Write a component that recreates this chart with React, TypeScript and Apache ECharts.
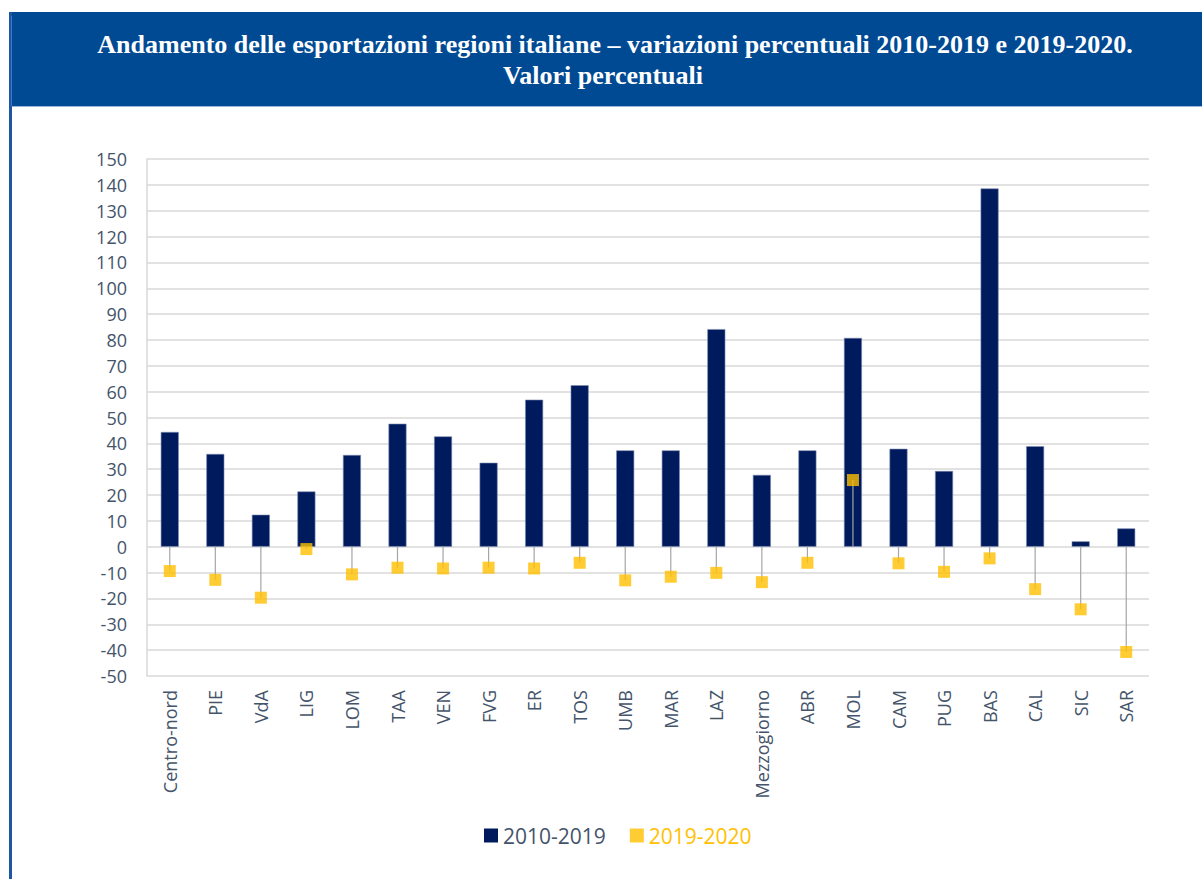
import React, { useEffect, useRef } from "react";
import * as echarts from "echarts";

const categories = [
  "Centro-nord", "PIE", "VdA", "LIG", "LOM", "TAA", "VEN", "FVG", "ER", "TOS", "UMB",
  "MAR", "LAZ", "Mezzogiorno", "ABR", "MOL", "CAM", "PUG", "BAS", "CAL", "SIC", "SAR",
];
const values2010_2019 = [
  44.4, 35.9, 12.4, 21.4, 35.5, 47.6, 42.7, 32.5, 56.9, 62.5, 37.3,
  37.3, 84.2, 27.8, 37.3, 80.8, 37.9, 29.3, 138.6, 38.9, 2.1, 7.1,
];
const values2019_2020 = [
  -9.4, -12.8, -19.7, -0.9, -10.7, -8.1, -8.4, -8.1, -8.4, -6.2, -13.0,
  -11.6, -10.1, -13.7, -6.2, 25.8, -6.4, -9.7, -4.5, -16.4, -24.2, -40.7,
];
const seriesNames = ["2010-2019", "2019-2020"];
const yMin = -50;
const yMax = 150;
const yStep = 10;
const titleLine1 = "Andamento delle esportazioni regioni italiane – variazioni percentuali 2010-2019 e 2019-2020.";
const titleLine2 = "Valori percentuali";

const NAVY = "#001A5E";
const YELLOW = "#FFC000";
const TEXT = "#44546A";
const GRID = "#D9D9D9";

export default function App() {
  const ref = useRef<HTMLDivElement>(null);
  useEffect(() => {
    document.body.style.margin = "0";
    if (!ref.current) return;
    const chart = echarts.init(ref.current, null, { renderer: "svg" });
    chart.setOption({
      animation: false,
      backgroundColor: "#ffffff",
      graphic: [
        { type: "rect", shape: { x: 9, y: 12, width: 1193, height: 94 }, style: { fill: "#004A93" }, z: 0 },
        { type: "rect", shape: { x: 9, y: 106, width: 1193, height: 1 }, style: { fill: "#9DB8DC" }, z: 0 },
        { type: "rect", shape: { x: 9, y: 12, width: 3, height: 867 }, style: { fill: "#1E56A6" }, z: 1 },
        { type: "rect", shape: { x: 11, y: 16, width: 1, height: 90 }, style: { fill: "#3D79C4" }, z: 1 },
        {
          type: "text", x: 615, y: 44, z: 2,
          style: {
            text: titleLine1, fill: "#ffffff", align: "center", verticalAlign: "middle",
            font: 'bold 26px "Liberation Serif"',
          },
        },
        {
          type: "text", x: 603, y: 75, z: 2,
          style: {
            text: titleLine2, fill: "#ffffff", align: "center", verticalAlign: "middle",
            font: 'bold 26px "Liberation Serif"',
          },
        },
      ],
      grid: { left: 147, right: 53, top: 159, bottom: 203, containLabel: false },
      legend: {
        left: 479,
        top: 820,
        itemWidth: 14,
        itemHeight: 14,
        itemGap: 24,
        itemStyle: { borderWidth: 0 },
        textStyle: { fontFamily: "Open Sans", fontSize: 21 },
        data: [
          { name: seriesNames[0], icon: "rect", textStyle: { color: TEXT } },
          { name: seriesNames[1], icon: "rect", textStyle: { color: YELLOW } },
        ],
      },
      xAxis: {
        type: "category",
        data: categories,
        axisLine: { show: false },
        axisTick: { show: false },
        splitLine: { show: false },
        axisLabel: {
          rotate: 90,
          interval: 0,
          margin: 14,
          color: TEXT,
          fontFamily: "Open Sans",
          fontSize: 18,
        },
      },
      yAxis: {
        type: "value",
        min: yMin,
        max: yMax,
        interval: yStep,
        axisLine: { show: true, lineStyle: { color: GRID, width: 1.5 } },
        axisTick: { show: false },
        splitLine: { show: true, lineStyle: { color: GRID, width: 1.5 } },
        axisLabel: {
          margin: 20,
          color: TEXT,
          fontFamily: "Open Sans",
          fontSize: 18,
        },
      },
      series: [
        {
          name: seriesNames[0],
          type: "bar",
          data: values2010_2019,
          barWidth: 18,
          itemStyle: { color: NAVY, borderColor: "#7F8DB0", borderWidth: 0.6 },
          z: 2,
        },
        {
          name: "drop",
          type: "custom",
          data: values2019_2020.map((v, i) => [i, v]),
          encode: { x: 0, y: 1 },
          z: 3,
          silent: true,
          renderItem: (params: any, api: any) => {
            const i = api.value(0);
            const v = api.value(1);
            const p0 = api.coord([i, 0]);
            const p1 = api.coord([i, v]);
            return {
              type: "line",
              shape: { x1: p0[0], y1: p0[1], x2: p1[0], y2: p1[1] },
              style: { stroke: "#A6A6A6", lineWidth: 1.2 },
            };
          },
        },
        {
          name: seriesNames[1],
          type: "scatter",
          data: values2019_2020,
          symbol: "rect",
          symbolSize: 12,
          itemStyle: { color: YELLOW },
          z: 4,
        },
      ],
    });
    return () => chart.dispose();
  }, []);
  return (
    <div
      ref={ref}
      style={{ position: "absolute", left: 0, top: 0, width: 1202, height: 879 }}
    />
  );
}
